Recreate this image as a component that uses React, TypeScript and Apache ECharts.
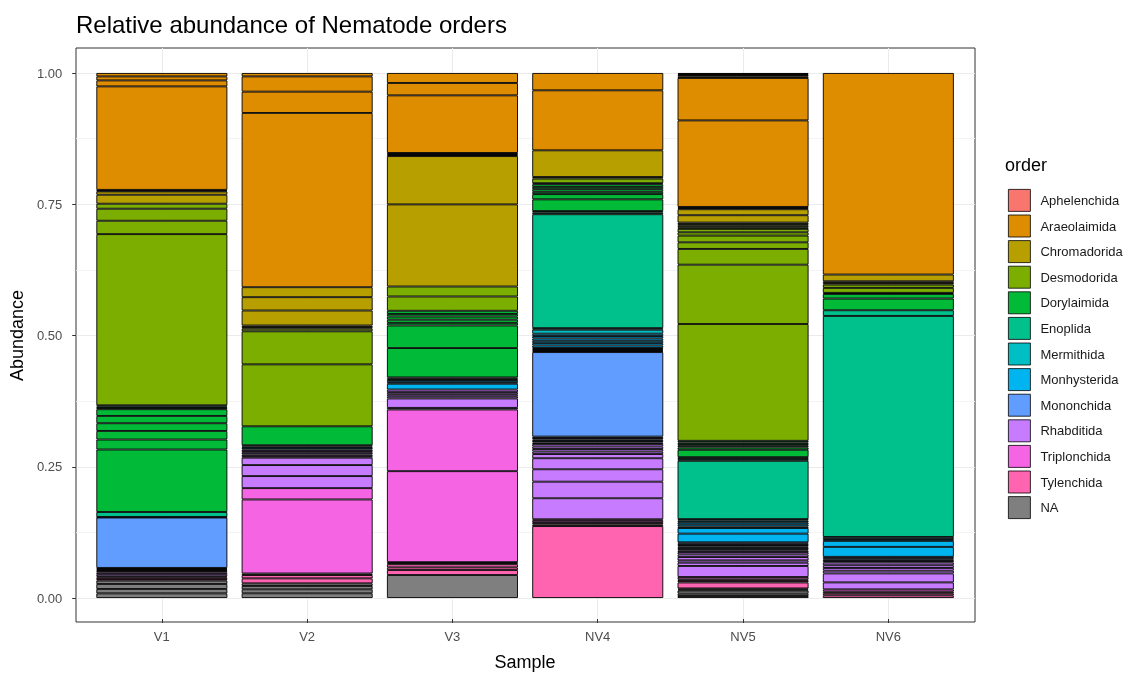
import React, { useEffect, useRef } from "react";
import * as echarts from "echarts";

const samples = ["V1", "V2", "V3", "NV4", "NV5", "NV6"];
const orders = [
  "Aphelenchida", "Araeolaimida", "Chromadorida", "Desmodorida", "Dorylaimida", "Enoplida",
  "Mermithida", "Monhysterida", "Mononchida", "Rhabditida", "Triplonchida", "Tylenchida", "NA",
];
const orderColors = [
  "#F8766D", "#DE8C00", "#B79F00", "#7CAE00", "#00BA38", "#00C08B",
  "#00BFC4", "#00B4F0", "#619CFF", "#C77CFF", "#F564E3", "#FF64B0", "#7F7F7F",
];
const yTicks = [0, 0.25, 0.5, 0.75, 1];

// segment abundances per sample (V1, V2, V3, NV4, NV5, NV6), listed bottom -> top
const aphelenchida = [[], [], [], [], [0.002], []];
const araeolaimida = [
  [0.1971, 0.0114, 0.0076, 0.0065],
  [0.3319, 0.0406, 0.029, 0.0065],
  [0.1097, 0.0236, 0.019],
  [0.1143, 0.033],
  [0.1648, 0.0808, 0.003, 0.0025, 0.002],
  [0.3839],
];
const chromadorida = [
  [0.0171, 0.0063, 0.0015, 0.0015],
  [0.003, 0.003, 0.0286, 0.0254, 0.019],
  [0.1564, 0.092, 0.002, 0.002, 0.002],
  [0.003, 0.0508],
  [0.014, 0.0114, 0.0022, 0.0022],
  [0.003, 0.0033, 0.0128],
];
const desmodorida = [
  [0.326, 0.0255, 0.0229, 0.0095],
  [0.118, 0.063, 0.005],
  [0.0272, 0.019],
  [0.002, 0.0088],
  [0.2225, 0.113, 0.03, 0.0126, 0.0128, 0.0063, 0.0065, 0.003, 0.003, 0.003, 0.003],
  [0.0095, 0.0063],
];
const dorylaimida = [
  [0.119, 0.019, 0.0164, 0.0147, 0.0139, 0.0128, 0.0025, 0.0025, 0.0025],
  [0.036],
  [0.0025, 0.0025, 0.056, 0.043, 0.005, 0.006, 0.006, 0.005, 0.006],
  [0.0223, 0.01, 0.0044, 0.005, 0.0044, 0.005],
  [0.014, 0.0044, 0.0032, 0.0032, 0.0032, 0.0031],
  [0.0223, 0.0088, 0.002],
];
const enoplida = [
  [0.0095],
  [],
  [],
  [0.003, 0.217, 0.003, 0.003],
  [0.111, 0.0035, 0.0035],
  [0.421, 0.0108],
];
const mermithida = [[], [0.0025], [], [0.0076], [0.003, 0.003], [0.004]];
const monhysterida = [
  [0.001],
  [0.003, 0.0025],
  [0.011, 0.003, 0.004],
  [0.0045, 0.0045, 0.0045, 0.0045, 0.0045, 0.0045],
  [0.0166, 0.0107, 0.003, 0.004, 0.004],
  [0.019, 0.0114, 0.0035],
];
const mononchida = [
  [0.002, 0.002, 0.002, 0.096],
  [],
  [],
  [0.0028, 0.0028, 0.0028, 0.0028, 0.0028, 0.161, 0.002, 0.002, 0.002, 0.002],
  [0.0026, 0.0026, 0.0026, 0.0026, 0.0026, 0.0026],
  [0.0027, 0.0027, 0.0027, 0.0027],
];
const rhabditida = [
  [0.004, 0.003, 0.003],
  [0.0229, 0.021, 0.014, 0.003, 0.0032, 0.0032, 0.0032, 0.0032],
  [0.003, 0.018, 0.004, 0.004, 0.004, 0.005],
  [0.04, 0.0316, 0.0236, 0.021, 0.008, 0.0048, 0.0048, 0.0048, 0.0048],
  [0.021, 0.0063, 0.0044, 0.0063, 0.005, 0.0044, 0.003],
  [0.0133, 0.0171, 0.0052, 0.0052, 0.0052, 0.0052],
];
const triplonchida = [
  [0.002],
  [0.141, 0.0216],
  [0.002, 0.002, 0.1733, 0.1175],
  [0.004, 0.003],
  [0.0044],
  [0.0044],
];
const tylenchida = [
  [0.003, 0.0033],
  [0.0095, 0.0063, 0.003],
  [0.0095, 0.005, 0.006],
  [0.137, 0.003, 0.003],
  [0.002, 0.002, 0.0114, 0.003, 0.003],
  [0.005, 0.004, 0.003],
];
const naSegments = [
  [0.0088, 0.0084, 0.0095, 0.0063],
  [0.009, 0.0076, 0.0063, 0.005],
  [0.0438],
  [],
  [0.0038, 0.0044, 0.006],
  [],
];

const segmentsByOrder: Record<string, number[][]> = {
  Aphelenchida: aphelenchida,
  Araeolaimida: araeolaimida,
  Chromadorida: chromadorida,
  Desmodorida: desmodorida,
  Dorylaimida: dorylaimida,
  Enoplida: enoplida,
  Mermithida: mermithida,
  Monhysterida: monhysterida,
  Mononchida: mononchida,
  Rhabditida: rhabditida,
  Triplonchida: triplonchida,
  Tylenchida: tylenchida,
  NA: naSegments,
};

const FONT = '"Liberation Sans", Arial, sans-serif';

export default function App() {
  const ref = useRef<HTMLDivElement>(null);
  useEffect(() => {
    if (!ref.current) return;
    const chart = echarts.init(ref.current, undefined, { renderer: "svg" });

    const series: any[] = [];
    const stackOrder = [...orders].reverse();
    stackOrder.forEach((name) => {
      const color = orderColors[orders.indexOf(name)];
      const segs = segmentsByOrder[name];
      const k = Math.max(1, ...segs.map((s) => s.length));
      for (let j = 0; j < k; j++) {
        series.push({
          type: "bar",
          name,
          xAxisIndex: 2,
          yAxisIndex: 2,
          stack: "total",
          barWidth: 131,
          data: samples.map((_, i) => (segs[i][j] !== undefined ? segs[i][j] : "-")),
          itemStyle: { color, borderColor: "#000", borderWidth: 0.9 },
          emphasis: { disabled: true },
        });
      }
    });

    chart.setOption({
      animation: false,
      textStyle: { fontFamily: FONT },
      grid: [
        { left: 76, top: 48, width: 899, height: 574, show: true, backgroundColor: "#fff", borderColor: "#333333", borderWidth: 1 },
        { left: 76, top: 73, width: 899, height: 525 },
        { left: 89.2, top: 73, width: 871.8, height: 525 },
        { left: 161.8, top: 48, width: 726.5, height: 574 },
      ],
      xAxis: [
        { gridIndex: 0, type: "value", show: false },
        { gridIndex: 1, type: "value", show: false },
        { gridIndex: 2, type: "category", data: samples, show: false },
        {
          gridIndex: 3,
          type: "category",
          data: samples,
          boundaryGap: false,
          position: "bottom",
          axisLine: { show: false, onZero: false },
          axisTick: { show: true, length: 4, lineStyle: { color: "#333333" } },
          axisLabel: { margin: 11, fontSize: 13, color: "#4D4D4D", fontFamily: FONT },
          splitLine: { show: true, lineStyle: { color: "#EBEBEB", width: 1 } },
          name: "Sample",
          nameLocation: "middle",
          nameGap: 34,
          nameTextStyle: { fontSize: 18, color: "#000", fontFamily: FONT },
        },
      ],
      yAxis: [
        { gridIndex: 0, type: "value", show: false },
        {
          gridIndex: 1,
          type: "value",
          min: 0,
          max: 1,
          interval: 0.25,
          axisLine: { show: false, onZero: false },
          axisTick: { show: true, length: 4, lineStyle: { color: "#333333" } },
          axisLabel: { margin: 14, fontSize: 13, color: "#4D4D4D", fontFamily: FONT, formatter: (v: number) => v.toFixed(2) },
          splitLine: { show: true, lineStyle: { color: "#EBEBEB", width: 1 } },
          minorTick: { show: false, splitNumber: 2 },
          minorSplitLine: { show: true, lineStyle: { color: "#F4F4F4", width: 1 } },
          name: "Abundance",
          nameLocation: "middle",
          nameGap: 47,
          nameTextStyle: { fontSize: 18, color: "#000", fontFamily: FONT },
        },
        { gridIndex: 2, type: "value", min: 0, max: 1, show: false },
        { gridIndex: 3, type: "value", min: 0, max: 1, show: false },
      ],
      legend: {
        orient: "vertical",
        left: 1008,
        top: 189,
        padding: 0,
        itemWidth: 22,
        itemHeight: 22,
        itemGap: 2.8,
        icon: "rect",
        data: orders,
        selectedMode: false,
        textStyle: { fontSize: 13, color: "#1A1A1A", fontFamily: FONT, padding: [0, 0, 0, 5] },
        itemStyle: { borderColor: "#000", borderWidth: 0.8 },
      },
      graphic: [
        {
          type: "text",
          left: 76,
          top: 12,
          style: { text: "Relative abundance of Nematode orders", font: `24px ${FONT}`, fill: "#000" },
        },
        {
          type: "text",
          left: 1005,
          top: 156,
          style: { text: "order", font: `18px ${FONT}`, fill: "#000" },
        },
      ],
      series,
    });

    return () => chart.dispose();
  }, []);
  return <div ref={ref} style={{ position: "fixed", left: 0, top: 0, width: 1148, height: 676 }} />;
}
